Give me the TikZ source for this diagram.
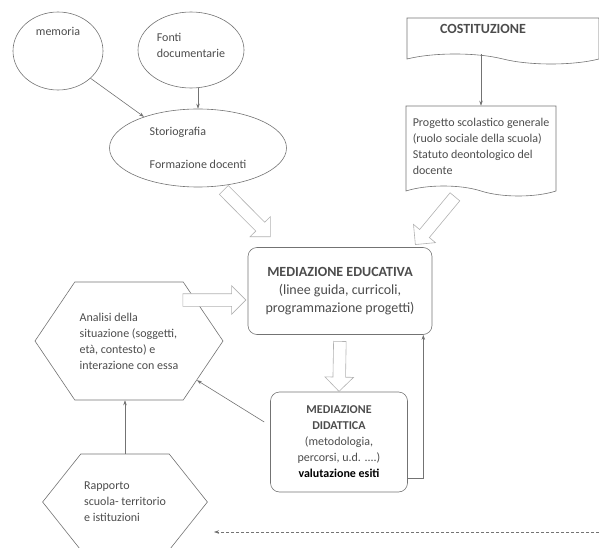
\documentclass[tikz,border=0pt]{standalone}
\usepackage{fontspec}
\setmainfont{Carlito}
\usetikzlibrary{shapes.geometric,shapes.symbols,shapes.arrows,arrows.meta,positioning}

\colorlet{linea}{black!55}
\colorlet{testo}{black!70}
\newcommand{\corpo}{\fontsize{12}{16}\selectfont}
\newcommand{\titolo}{\fontsize{14}{18}\selectfont}

\tikzset{
	oval/.style={ellipse, draw=linea, text=testo, font=\corpo, align=left},
	foglio/.style={tape, tape bend top=none, tape bend bottom=out and in, tape bend height=10pt, draw=linea, text=testo, font=\corpo, align=left},
	scatola/.style={rectangle, rounded corners=9pt, draw=linea, text=testo, align=center},
	esagono/.style={signal, signal to=west and east, draw=linea, text=testo, font=\corpo, align=left},
	blocco/.style={single arrow, draw=black!30, fill=white, single arrow head extend=8pt, minimum width=28pt, inner xsep=0pt, inner ysep=6pt, sloped, allow upside down},
	freccia/.style={draw=linea, -{Stealth[length=5pt,width=3.5pt]}},
}

\begin{document}
\begin{tikzpicture}[x=1pt,y=-1pt,line width=0.6pt]
		\useasboundingbox (0,0) rectangle (599,548);

		% fonti e storiografia
		\node[oval, minimum width=90pt, minimum height=78pt, text height=0pt, text depth=30pt] (mem) at (58,51) {memoria};
		\node[oval, minimum width=104pt, minimum height=76pt, text depth=10pt] (fon) at (191,50) {Fonti\\documentarie};
		\node[oval, minimum width=177pt, minimum height=78pt] (sto) at (198,148) {Storiografia\\[17pt]Formazione docenti};

		% costituzione
		\node[foglio, font=\titolo, minimum width=192pt, minimum height=46pt, text width=126pt, text depth=14pt] (cost) at (503,36) {\textbf{COSTITUZIONE}};
		\node[foglio, minimum width=150pt, minimum height=90pt] (prog) at (481,146) {Progetto scolastico generale\\(ruolo sociale della scuola)\\Statuto deontologico del\\docente};

		% mediazioni
		\node[scatola, font=\titolo, minimum width=184pt, minimum height=87pt] (edu) at (340,291) {\textbf{MEDIAZIONE EDUCATIVA}\\(linee guida, curricoli,\\programmazione progetti)};
		\node[scatola, font=\corpo, minimum width=137pt, minimum height=100pt] (did) at (339,442) {\textbf{MEDIAZIONE}\\\textbf{DIDATTICA}\\(metodologia,\\percorsi, u.d. ....)\\\textcolor{black}{\textbf{valutazione esiti}}};

		% contesto
		\node[esagono, minimum width=188pt, minimum height=118pt, signal pointer angle=112] (ana) at (129,341) {Analisi della\\situazione (soggetti,\\età, contesto) e\\interazione con essa};
		\node[esagono, minimum width=156pt, minimum height=96pt, signal pointer angle=103] (rap) at (125,502) {Rapporto\\scuola- territorio\\e istituzioni};

		% frecce
		\draw[freccia] (mem.-40) -- (sto.150);
		\draw[freccia] (sto.north |- fon.south) -- (sto.north);
		\draw[freccia] (cost.south -| prog.north) -- (prog.north);
		\draw[freccia] ([yshift=-36pt]did.east) -| ([xshift=-9pt]edu.south east);
		\draw[freccia] ([xshift=-6pt,yshift=20pt]did.west) -- (ana.-30);
		\draw[freccia] (rap.north) -- (rap.north |- ana.south);

		\path (sto.-60) -- ([xshift=22pt,yshift=11pt]edu.north west) node[blocco, midway, minimum height=66pt] {};
		\path ([xshift=-24pt,yshift=-8pt]prog.south) -- ([xshift=-15pt,yshift=5pt]edu.north east) node[blocco, midway, minimum height=62pt] {};
		\path ([xshift=-68pt,yshift=-9pt]edu.west) -- ([xshift=-5pt,yshift=-9pt]edu.west) node[blocco, midway, minimum height=63pt] {};
		\path (edu.south) -- (did.north) node[blocco, midway, minimum height=50pt] {};

		\coordinate (dx) at (599,532);
		\coordinate (sx) at (214,532);
		\draw[freccia, dash pattern=on 3pt off 2pt] (dx) -- (sx);
	\end{tikzpicture}
\end{document}
